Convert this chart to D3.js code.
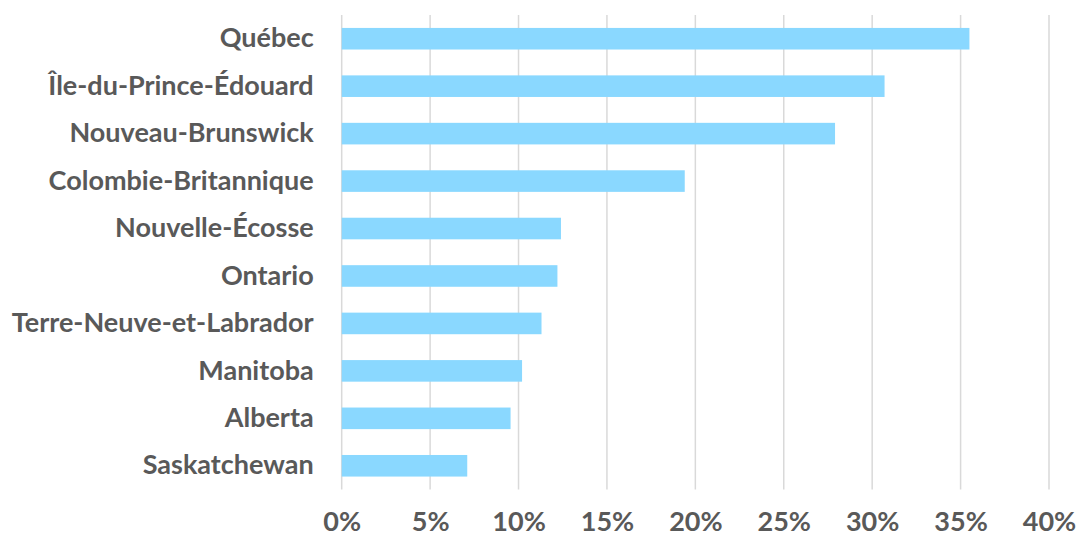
<!DOCTYPE html>
<html>
<head>
<meta charset="utf-8">
<script src="https://cdn.jsdelivr.net/npm/d3@7"></script>
<style>
  body { margin: 0; background: #fff; }
  text { font-family: "Lato", sans-serif; font-weight: bold; fill: #595959; }
</style>
</head>
<body>
<div id="view"></div>
<script>
var provinces = ["Québec", "Île-du-Prince-Édouard", "Nouveau-Brunswick", "Colombie-Britannique",
    "Nouvelle-Écosse", "Ontario", "Terre-Neuve-et-Labrador", "Manitoba", "Alberta", "Saskatchewan"];
var shares = [35.5, 30.7, 27.9, 19.4, 12.4, 12.2, 11.3, 10.2, 9.55, 7.1];
var ticks = [0, 5, 10, 15, 20, 25, 30, 35, 40];

var margin = {top: 15, right: 27, bottom: 47.5, left: 341.7},
    width = 1076 - margin.left - margin.right,
    height = 537 - margin.top - margin.bottom;

var svg = d3.select("#view")
    .append("svg")
    .attr("width", 1076)
    .attr("height", 537);

var g = svg.append("g")
    .attr("transform", "translate(" + margin.left + "," + margin.top + ")");

var x = d3.scaleLinear()
    .domain([0, 40])
    .range([0, width]);

var y = d3.scaleBand()
    .domain(provinces)
    .range([0, height]);

// vertical gridlines
g.append("g")
    .selectAll("line")
    .data(ticks)
    .enter().append("line")
    .attr("x1", function(d) { return x(d); })
    .attr("x2", function(d) { return x(d); })
    .attr("y1", 0)
    .attr("y2", height)
    .attr("stroke", "#d9d9d9")
    .attr("stroke-width", 1.5);

var barH = y.bandwidth() * 0.455;

g.append("g")
    .selectAll("rect")
    .data(provinces)
    .enter().append("rect")
    .attr("x", x(0))
    .attr("y", function(d) { return y(d) + (y.bandwidth() - barH) / 2; })
    .attr("width", function(d, i) { return x(shares[i]) - x(0); })
    .attr("height", barH)
    .attr("fill", "#8ad8ff");

// category labels
var yAxis = g.append("g")
    .call(d3.axisLeft(y).tickSize(0).tickPadding(28));
yAxis.select(".domain").remove();
yAxis.selectAll("text")
    .attr("font-size", 27)
    .attr("font-family", null)
    .attr("fill", null);

// percentage labels
var xAxis = g.append("g")
    .attr("transform", "translate(0," + height + ")")
    .call(d3.axisBottom(x).tickValues(ticks).tickSize(0).tickPadding(22)
        .tickFormat(function(d) { return d + "%"; }));
xAxis.select(".domain").remove();
xAxis.selectAll("text")
    .attr("font-size", 27)
    .attr("font-family", null)
    .attr("fill", null);
</script>
</body>
</html>
